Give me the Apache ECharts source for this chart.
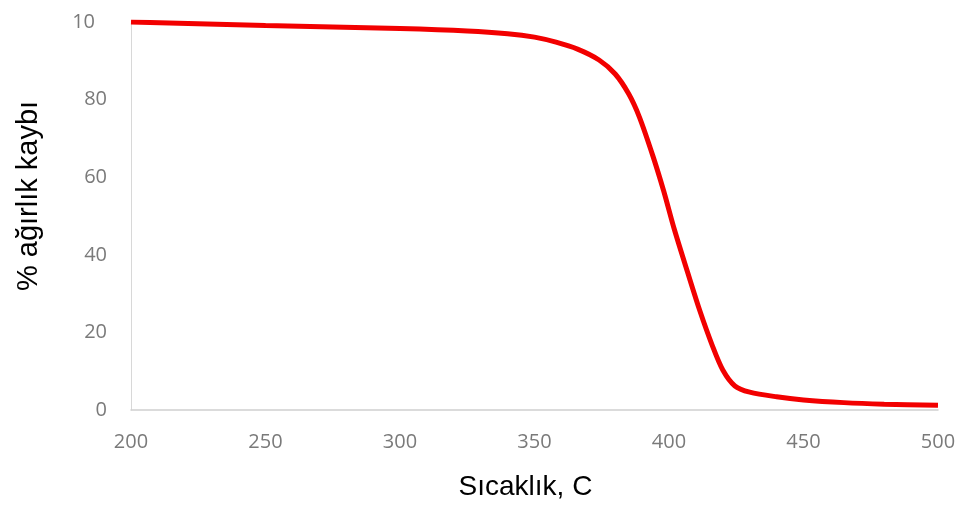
<!DOCTYPE html>
<html><head><meta charset="utf-8">
<script src="https://cdn.jsdelivr.net/npm/echarts@6/dist/echarts.min.js"></script>
<style>html,body{margin:0;padding:0;background:#fff}#c{width:960px;height:509px}</style>
</head><body><div id="c"></div>
<script>
var temps = [200,250,300,325,340,350,358,366,374,380,385,389,394,398,402,407,411.5,416,420,424.5,430,440,450,465,480,500];
var weights = [100,99.1,98.3,97.7,97,96.1,94.8,93,90.2,86.6,81.5,75.5,65.5,56.5,46.5,35.3,25.5,16.8,10.3,6.2,4.6,3.4,2.6,1.9,1.5,1.2];
var yTickLabels = {0:'0',20:'20',40:'40',60:'60',80:'80',100:'10'};
var xTitle = 'Sıcaklık, C';
var yTitle = '% ağırlık kaybı';
var pts = temps.map(function(t,i){return [t, weights[i]];});
var chart = echarts.init(document.getElementById('c'));
chart.setOption({
  animation:false,
  grid:{left:131,right:22,top:22,bottom:99},
  xAxis:{type:'value',min:200,max:500,interval:50,
    name:xTitle,nameLocation:'middle',nameGap:63,
    nameTextStyle:{fontFamily:'Liberation Sans',fontSize:28,color:'#000',padding:[0,18,0,0]},
    axisLine:{show:true,lineStyle:{color:'#d0d0d0',width:1.5}},axisTick:{show:false},splitLine:{show:false},
    axisLabel:{fontFamily:'Open Sans',fontSize:20,color:'#7a7a7a',margin:22}},
  yAxis:{type:'value',min:0,max:100,interval:20,
    name:yTitle,nameLocation:'middle',nameGap:88,
    nameTextStyle:{fontFamily:'Liberation Sans',fontSize:29,color:'#000',padding:[0,0,0,40]},
    axisLine:{show:true,lineStyle:{color:'#d8d8d8',width:1}},axisTick:{show:false},splitLine:{show:false},
    axisLabel:{fontFamily:'Open Sans',fontSize:20,color:'#7a7a7a',margin:24,
      formatter:function(v){var s=yTickLabels[v]; if(s===undefined) return ''; return v===100?'{c|'+s+'}':s;},
      rich:{c:{fontFamily:'Open Sans',fontSize:20,color:'#7a7a7a',padding:[0,12,0,0]}}}},
  series:[{type:'line',data:pts,smooth:0.3,showSymbol:false,
    lineStyle:{color:'#f20000',width:5}}]
});
</script></body></html>
